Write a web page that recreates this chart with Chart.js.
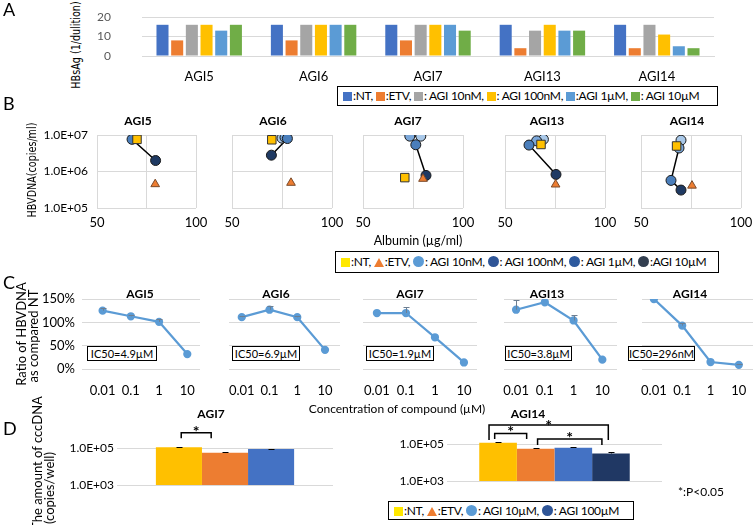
<!DOCTYPE html>
<html>
<head>
<meta charset="utf-8">
<script src="https://cdn.jsdelivr.net/npm/chart.js@4"></script>
<style>
body { margin: 0; background: #fff; }
#fig { position: relative; width: 754px; height: 525px; overflow: hidden; font-family: Lato, 'Open Sans', sans-serif; color: #000; }
canvas { position: absolute; }
.t { position: absolute; white-space: nowrap; transform: translate(-50%, -50%); }
.rot { position: absolute; white-space: nowrap; transform: translate(-50%, -50%) rotate(-90deg); }
.lbl { position: absolute; font-size: 18px; }
.box { position: absolute; border: 1px solid #000; background: #fff; white-space: nowrap; box-sizing: border-box; padding-left: 5px; letter-spacing: -0.3px; }
.ic { position: absolute; border: 1px solid #000; background: #fff; font-size: 11px; text-align: center; box-sizing: border-box; line-height: 13px; }
.mk { display: inline-block; margin-right: 1px; vertical-align: -1px; }
</style>
</head>
<body>
<div id="fig"></div>
<script>
// ---- data ----
const groups = ['AGI5', 'AGI6', 'AGI7', 'AGI13', 'AGI14'];

// A: HBsAg (1/dilution)
const aNames = ['NT', 'ETV', 'AGI 10nM', 'AGI 100nM', 'AGI 1µM', 'AGI 10µM'];
const aColors = ['#4472C4', '#ED7D31', '#A5A5A5', '#FFC000', '#5B9BD5', '#70AD47'];
const hbsNT = [16, 16, 16, 16, 16];
const hbsETV = [8, 8, 8, 4, 4];
const hbs10nM = [16, 16, 16, 13, 16];
const hbs100nM = [16, 16, 16, 16, 11];
const hbs1uM = [13, 16, 16, 13, 5];
const hbs10uM = [16, 16, 13, 13, 4];

// B: albumin (x) vs HBV DNA (y)
const bAlbNT = [70.2, 69.9, 70.9, 68.0, 67.8];
const bDnaNT = [7.6e6, 7.4e6, 6.8e5, 5.5e6, 5.0e6];
const bAlbETV = [79.4, 79.5, 80.0, 75.3, 75.5];
const bDnaETV = [4.5e5, 4.9e5, 6.3e5, 4.4e5, 4.1e5];
// AGI 10nM, 100nM, 1uM, 10uM
const bAlbAGI = [[69.3, 68.5, 67.7, 79.6], [75.0, 76.5, 77.7, 69.7], [78.9, 73.4, 76.4, 81.5], [69.2, 65.8, 62.0, 75.5], [70.0, 69.0, 65.0, 70.0]];
const bDnaAGI = [[8.8e6, 8.2e6, 7.6e6, 2.0e6], [8.2e6, 8.6e6, 8.0e6, 2.8e6], [9.3e6, 9.3e6, 5.4e6, 7.8e5], [7.6e6, 6.9e6, 5.3e6, 8.3e5], [7.2e6, 4.4e6, 5.7e5, 3.1e5]];
const bCircle = ['#A9C8E8', '#7BA7D9', '#4A7EBB', '#1F3A63'];
const bTicksY = [1e5, 1e6, 1e7];

// C: ratio of HBV DNA vs NT (%)
const concLabels = ['0.01', '0.1', '1', '10'];
const cVals = [[125, 113, 101, 32], [111, 127, 111, 41], [120, 120, 68, 14], [127, 143, 104, 20], [150, 93, 15, 9]];
const cErr = [[6, 3, 6, 0], [2, 9, 2, 0], [0, 13, 0, 0], [20, 0, 12, 0], [0, 5, 0, 2]];
const ic50 = ['IC50=4.9µM', 'IC50=6.9µM', 'IC50=1.9µM', 'IC50=3.8µM', 'IC50=296nM'];

// D: cccDNA (copies/well)
const dNames = ['NT', 'ETV', 'AGI 10µM', 'AGI 100µM'];
const dColors = ['#FFC000', '#ED7D31', '#4472C4', '#203864'];
const d7Vals = [1.13e5, 5.8e4, 9.2e4];
const d7Err = [4e3, 3e3, 3e3];
const d14Vals = [1.22e5, 5.8e4, 6.5e4, 3.2e4];
const d14Err = [5e3, 3e3, 4e3, 7e3];

// ---- helpers ----
Chart.defaults.font.family = 'Lato, sans-serif';
Chart.defaults.font.size = 12;
Chart.defaults.color = '#404040';
Chart.defaults.animation = false;
Chart.defaults.plugins.legend.display = false;
Chart.defaults.plugins.tooltip.enabled = false;

const fig = document.getElementById('fig');

function txt(s, x, y, css, cls) {
    const d = document.createElement('div');
    d.className = cls || 't';
    d.textContent = s;
    d.style.left = x + 'px';
    d.style.top = y + 'px';
    if (css) d.style.cssText += css;
    fig.appendChild(d);
    return d;
}

function fmtE(v) {
    return Number(v).toExponential(1).toUpperCase().replace(/E\+(\d)$/, 'E+0$1');
}

// errors stored on each dataset as `err`
const errPlugin = {
    id: 'errbars',
    afterDatasetsDraw(chart) {
        const ctx = chart.ctx, ys = chart.scales.y;
        ctx.save();
        chart.data.datasets.forEach((ds, di) => {
            if (!ds.err) return;
            const meta = chart.getDatasetMeta(di);
            ctx.strokeStyle = ds.errColor || '#000';
            ctx.lineWidth = 1;
            ds.err.forEach((e, i) => {
                if (!e) return;
                const v = ds.data[i];
                const val = typeof v === 'object' ? v.y : v;
                const x = Math.round(meta.data[i].x) + 0.5;
                const y0 = ys.getPixelForValue(val), y1 = Math.round(ys.getPixelForValue(val + e)) + 0.5;
                ctx.beginPath();
                ctx.moveTo(x, y0); ctx.lineTo(x, y1);
                ctx.moveTo(x - 3, y1); ctx.lineTo(x + 3, y1);
                ctx.stroke();
            });
        });
        ctx.restore();
    }
};
Chart.register(errPlugin);

// plot = wanted chart area on the page, m = canvas margin round it,
// yw / xh = fixed width / height of the y and x axes
function mk(plot, m, yw, xh, cfg) {
    const c = document.createElement('canvas');
    const w = plot.r - plot.l + m.l + m.r, h = plot.b - plot.t + m.t + m.b;
    c.width = w; c.height = h;
    c.style.left = (plot.l - m.l) + 'px';
    c.style.top = (plot.t - m.t) + 'px';
    c.style.width = w + 'px';
    c.style.height = h + 'px';
    fig.appendChild(c);
    cfg.options.responsive = false;
    cfg.options.maintainAspectRatio = false;
    cfg.options.layout = { autoPadding: false, padding: { left: m.l - yw, top: m.t, right: m.r, bottom: m.b - xh } };
    cfg.options.scales.x.afterFit = s => { s.height = xh; };
    cfg.options.scales.y.afterFit = s => { s.width = yw; };
    return new Chart(c, cfg);
}

function bracketPlugin(list) {
    return {
        id: 'brackets',
        afterDatasetsDraw(chart) {
            const ctx = chart.ctx, y5 = chart.scales.y.getPixelForValue(1e5);
            const c0 = chart.getDatasetMeta(0).data[0].x;
            const step = chart.getDatasetMeta(1).data[0].x - c0;
            ctx.save();
            ctx.strokeStyle = '#000'; ctx.fillStyle = '#000'; ctx.lineWidth = 1.5;
            ctx.font = 'bold 16px Lato'; ctx.textAlign = 'center'; ctx.textBaseline = 'alphabetic';
            list.forEach(b => {
                const x1 = c0 + b.from * step, x2 = c0 + b.to * step;
                const yt = y5 - b.top, yb = y5 - b.leg;
                ctx.beginPath();
                ctx.moveTo(x1, yb); ctx.lineTo(x1, yt); ctx.lineTo(x2, yt); ctx.lineTo(x2, yb);
                ctx.stroke();
                ctx.fillText('*', (x1 + x2) / 2, yt - b.star + 9);
            });
            ctx.restore();
        }
    };
}

function legend(items, x, y, w, h, fs) {
    const d = document.createElement('div');
    d.className = 'box';
    d.style.cssText += `left:${x}px;top:${y}px;width:${w}px;height:${h}px;font-size:${fs}px;line-height:${h - 2}px;`;
    items.forEach(it => {
        const mkEl = document.createElement('span');
        mkEl.className = 'mk';
        if (it.m === 'sq') mkEl.style.cssText += `width:9px;height:9px;background:${it.c};`;
        if (it.m === 'tri') mkEl.style.cssText += `width:0;height:0;border-left:5px solid transparent;border-right:5px solid transparent;border-bottom:9px solid ${it.c};`;
        if (it.m === 'ci') mkEl.style.cssText += `width:11px;height:11px;border-radius:50%;background:${it.c};`;
        d.appendChild(mkEl);
        d.appendChild(document.createTextNode(it.t));
    });
    fig.appendChild(d);
    return d;
}

const grid = { color: '#D9D9D9', drawTicks: false };

// ---- panel A ----
const aSeries = [hbsNT, hbsETV, hbs10nM, hbs100nM, hbs1uM, hbs10uM];
mk({ l: 142, t: 17, r: 714, b: 56 }, { l: 50, t: 40, r: 8, b: 42 }, 50, 36, {
    type: 'bar',
    data: {
        labels: groups,
        datasets: aSeries.map((d, i) => ({ label: aNames[i], data: d, backgroundColor: aColors[i], barPercentage: 0.82, categoryPercentage: 0.77 }))
    },
    options: {
        scales: {
            x: { grid: { display: false }, border: { color: '#D9D9D9' }, ticks: { padding: 5, font: { size: 13 }, color: '#000' } },
            y: { min: 0, max: 20, ticks: { stepSize: 10, padding: 31, color: '#595959' }, grid: grid, border: { display: false } }
        }
    }
});
txt('HBsAg (1/dulition)', 76, 45, 'font-family:"DejaVu Sans";font-size:12px;transform:translate(-50%,-50%) rotate(-90deg) scaleX(0.8);', 'rot');
legend([
    { m: 'sq', c: aColors[0], t: ':NT, ' }, { m: 'sq', c: aColors[1], t: ':ETV, ' },
    { m: 'sq', c: aColors[2], t: ': AGI 10nM, ' }, { m: 'sq', c: aColors[3], t: ': AGI 100nM, ' },
    { m: 'sq', c: aColors[4], t: ':AGI 1µM, ' }, { m: 'sq', c: aColors[5], t: ': AGI 10µM' }
], 337, 86, 381, 20, 12);

// ---- panel B ----
const bPlots = [[97, 196], [232, 332], [363, 463], [505, 605], [641, 741]];
const bTitleX = [138, 273, 408, 547, 687];
groups.forEach((name, k) => {
    const first = k === 0;
    mk({ l: bPlots[k][0], t: 135, r: bPlots[k][1], b: 208 }, { l: first ? 64 : 24, t: 20, r: 24, b: 28 }, first ? 62 : 0, 28, {
        type: 'scatter',
        data: {
            datasets: [
                { label: 'NT', data: [{ x: bAlbNT[k], y: bDnaNT[k] }], pointStyle: 'rect', pointRadius: 6, backgroundColor: '#FFC000', borderColor: '#333', borderWidth: 1 },
                { label: 'ETV', data: [{ x: bAlbETV[k], y: bDnaETV[k] }], pointStyle: 'triangle', pointRadius: 5, backgroundColor: '#ED7D31', borderColor: '#7a4a2a', borderWidth: 1 },
                {
                    label: 'AGI', data: bAlbAGI[k].map((x, i) => ({ x: x, y: bDnaAGI[k][i] })), showLine: true,
                    borderColor: '#000', borderWidth: 1.5, pointRadius: 5, pointBackgroundColor: bCircle,
                    pointBorderColor: '#1a1a1a', pointBorderWidth: 1
                }
            ]
        },
        options: {
            scales: {
                x: { type: 'linear', min: 50, max: 100, ticks: { stepSize: 25, padding: 7, color: '#000', maxRotation: 0, font: { size: 13 }, callback: v => v === 75 ? '' : v }, grid: grid, border: { display: false } },
                y: {
                    type: 'logarithmic', min: 1e5, max: 1e7,
                    afterBuildTicks: s => { s.ticks = bTicksY.map(v => ({ value: v })); },
                    ticks: { display: first, padding: 9, color: '#000', callback: fmtE }, grid: grid, border: { display: false }
                }
            }
        }
    });
    txt(name, bTitleX[k], 120, 'font-weight:bold;font-size:12px;');
});
txt('HBVDNA(copies/ml)', 32, 170, 'font-family:"DejaVu Sans";font-size:12px;transform:translate(-50%,-50%) rotate(-90deg) scaleX(0.8);', 'rot');
txt('Albumin (µg/ml)', 418, 240, 'font-size:12.5px;');
legend([
    { m: 'sq', c: '#FFE800', t: ':NT, ' }, { m: 'tri', c: '#ED7D31', t: ':ETV, ' },
    { m: 'ci', c: '#5B9BD5', t: ': AGI 10nM, ' }, { m: 'ci', c: '#2F5597', t: ': AGI 100nM, ' },
    { m: 'ci', c: '#2E5A9E', t: ': AGI 1µM, ' }, { m: 'ci', c: '#333F50', t: ':AGI 10µM' }
], 335, 251, 384, 22, 12);

// ---- panel C ----
const cPlots = [[82, 200], [229, 340], [363, 477], [504, 617], [642, 753]];
const cRange = [[-0.73, 3.45], [-0.46, 3.54], [-0.48, 3.45], [-0.42, 3.51], [-0.42, 3.5]];
const cTitleX = [140, 276, 410, 547, 690];
const cBoxX = [[87, 157], [232, 300], [366, 434], [505, 572], [628, 695]];
groups.forEach((name, k) => {
    const first = k === 0;
    mk({ l: cPlots[k][0], t: 299, r: cPlots[k][1], b: 369 }, { l: first ? 56 : 20, t: 20, r: 20, b: 30 }, first ? 52 : 0, 30, {
        type: 'line',
        data: {
            datasets: [{
                data: cVals[k].map((v, i) => ({ x: i, y: v })), err: cErr[k], errColor: '#6d7f92',
                borderColor: '#5B9BD5', backgroundColor: '#5B9BD5', borderWidth: 2.25, pointRadius: 3, tension: 0
            }]
        },
        options: {
            scales: {
                x: {
                    type: 'linear', min: cRange[k][0], max: cRange[k][1],
                    afterBuildTicks: s => { s.ticks = concLabels.map((_, i) => ({ value: i })); },
                    ticks: { padding: 6, color: '#000', maxRotation: 0, autoSkip: false, font: { size: 13 }, callback: v => concLabels[v] },
                    grid: { display: false }, border: { display: false }
                },
                y: { min: 0, max: 150, ticks: { stepSize: 50, display: first, padding: 7, color: '#000', font: { size: 13 }, callback: v => v + '%' }, grid: grid, border: { display: false } }
            }
        }
    });
    txt(name, cTitleX[k], 293, 'font-weight:bold;font-size:12px;');
    const b = document.createElement('div');
    b.className = 'ic';
    b.textContent = ic50[k];
    b.style.cssText += `left:${cBoxX[k][0]}px;top:346px;width:${cBoxX[k][1] - cBoxX[k][0]}px;height:15px;`;
    fig.appendChild(b);
});
txt('Ratio of HBVDNA', 21, 334, 'font-size:13px;', 'rot');
txt('as compared NT', 33, 336, 'font-size:13px;', 'rot');
txt('Concentration of compound (µM)', 397, 408, 'font-size:12px;');

// ---- panel D ----
function dChart(plot, vals, errs, brackets) {
    return mk(plot, { l: 62, t: 32, r: 6, b: 14 }, 62, 0, {
        type: 'bar',
        data: {
            labels: [''],
            datasets: vals.map((v, i) => ({
                label: dNames[i], data: [v], err: [errs[i]], backgroundColor: dColors[i],
                barPercentage: 1, categoryPercentage: vals.length === 3 ? 0.64 : 0.7
            }))
        },
        options: {
            scales: {
                x: { display: false, grid: { display: false } },
                y: {
                    type: 'logarithmic', min: 1e3, max: 1e6,
                    afterBuildTicks: s => { s.ticks = [{ value: 1e3 }, { value: 1e5 }]; },
                    ticks: { padding: 3, color: '#000', callback: fmtE }, grid: grid, border: { display: false }
                }
            }
        },
        plugins: [bracketPlugin(brackets)]
    });
}
dChart({ l: 117, t: 430, r: 333, b: 485 }, d7Vals, d7Err, [
    { from: 0.05, to: 0.7, top: 15.6, leg: 10, star: 4.5 }
]);
dChart({ l: 447, t: 426, r: 662, b: 481 }, d14Vals, d14Err, [
    { from: -0.24, to: 2.93, top: 19.3, leg: 4.3, star: 3.3 },
    { from: -0.09, to: 0.76, top: 10.8, leg: 5.3, star: 5.2 },
    { from: 1.05, to: 2.76, top: 5.3, leg: -0.7, star: 5 }
]);
txt('AGI7', 211, 413, 'font-weight:bold;font-size:12px;');
txt('AGI14', 528, 413, 'font-weight:bold;font-size:12px;');
txt('The amount of cccDNA', 37, 463, 'font-size:13px;', 'rot');
txt('(copies/well)', 49, 488, 'font-size:13px;', 'rot');
txt('*:P<0.05', 701, 491, 'font-size:12px;');
legend([
    { m: 'sq', c: '#FFE800', t: ':NT, ' }, { m: 'tri', c: '#ED7D31', t: ':ETV, ' },
    { m: 'ci', c: '#5B9BD5', t: ': AGI 10µM, ' }, { m: 'ci', c: '#2F5597', t: ': AGI 100µM' }
], 388, 501, 246, 19, 12);

// panel letters
txt('A', 3, -2, '', 'lbl');
txt('B', 3, 92, '', 'lbl');
txt('C', 3, 271, '', 'lbl');
txt('D', 3, 417, '', 'lbl');
</script>
</body>
</html>
